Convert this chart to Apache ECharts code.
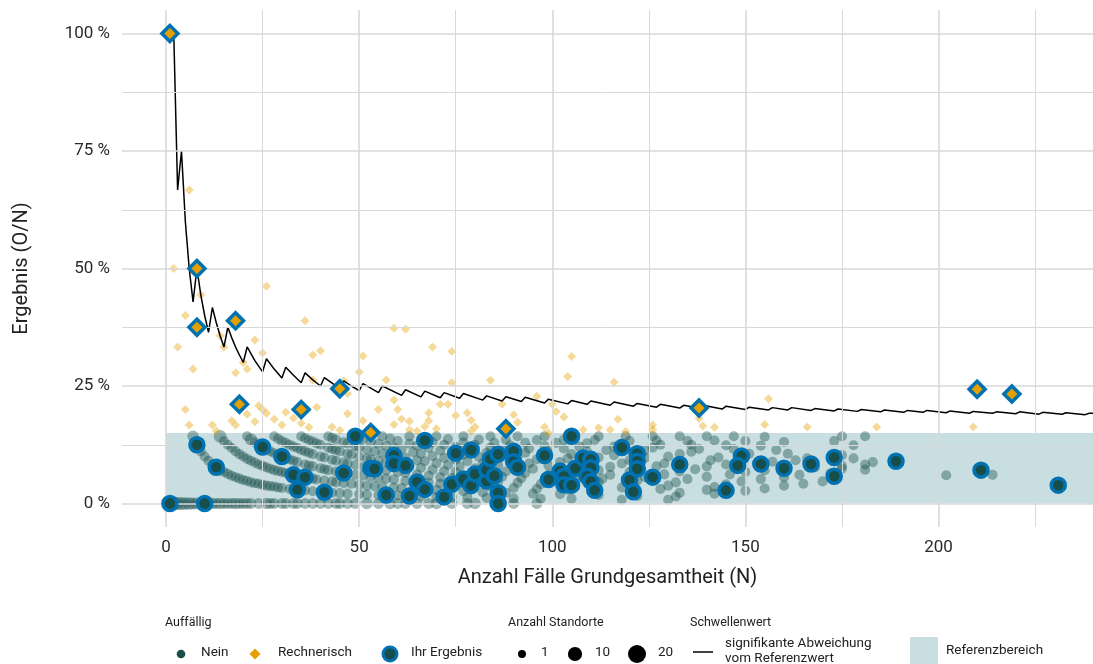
<!DOCTYPE html>
<html><head><meta charset="utf-8">
<script src="https://cdn.jsdelivr.net/npm/echarts@6/dist/echarts.min.js"></script>
<style>html,body{margin:0;padding:0;background:#fff}#c{width:1093px;height:664px}</style>
</head><body><div id="c"></div>
<script>
// ---- tick labels / ranges ----
const xTicks = [0, 50, 100, 150, 200];
const xMinor = [25, 75, 125, 175, 225];
const yTicks = [0, 25, 50, 75, 100];
const yMinor = [12.5, 37.5, 62.5, 87.5];
const refRange = [0, 15];          // Referenzbereich (%)
const sizeLegend = [1, 10, 20];     // Anzahl Standorte

// ---- threshold line (signifikante Abweichung vom Referenzwert) [N, %] ----
const threshold = [[1,100],[2,100],[3,66.7],[4,75],[5,60],[6,50],[7,42.9],[8,50],[9,44.4],[10,40],[11,36.4],[12,41.7],[13,38.5],[14,35.7],[15,33.3],[16,37.5],[17,35.3],[18,33.3],[19,31.6],[20,30],[21,33.3],[23,30.4],[25,28],[26,30.8],[28,28.6],[30,26.7],[31,29],[33,27.3],[35,25.7],[36,27.8],[38,26.3],[40,25],[41,26.8],[43,25.6],[45,24.4],[46,26.1],[48,25],[50,24],[51,25.5],[55,23.6],[56,25],[61,23],[62,24.2],[66,22.7],[67,23.9],[71,22.5],[72,23.6],[76,22.4],[77,23.4],[82,22],[83,22.9],[87,21.8],[88,22.7],[92,21.7],[93,22.6],[98,21.4],[99,22.2],[104,21.2],[105,21.9],[109,21.1],[110,21.8],[115,20.9],[116,21.6],[121,20.7],[122,21.3],[127,20.5],[128,21.1],[133,20.3],[134,20.9],[138,20.3],[139,20.9],[144,20.1],[145,20.7],[150,20],[151,20.5],[156,19.9],[157,20.4],[161,19.9],[162,20.4],[167,19.8],[168,20.2],[173,19.7],[174,20.1],[179,19.6],[180,20],[185,19.5],[186,19.9],[191,19.4],[192,19.8],[196,19.4],[197,19.8],[202,19.3],[203,19.7],[208,19.2],[209,19.6],[214,19.2],[215,19.5],[220,19.1],[221,19.5],[226,19],[227,19.4],[232,19],[233,19.3],[238,18.9],[239,19.2],[240,19.2]];

// ---- other sites, Auffällig: Nein  [N, %, Standorte] ----
const otherNein = [
[2,0,10],[3,0,8],[4,0,8],[5,0,7],[6,0,7],[7,0,6],[8,0,6],[9,0,5],[11,0,5],[12,0,5],[13,0,4],[14,0,5],[15,0,4],[16,0,4],[17,0,4],[18,0,5],[19,0,4],[20,0,4],[21,0,4],[22,0,4],[24,0,4],[26,0,5],[27,0,4],[28,0,4],[30,0,4],[31,0,4],[33,0,4],[34,0,4],[36,0,4],[38,0,4],[40,0,4],[42,0,4],[44,0,4],[45,0,4],[47,0,4],[49,0,4],[52,0,5],[55,0,4],[58,0,5],[60,0,4],[62,0,4],[65,0,4],[68,0,4],[70,0,5],[74,0,4],[78,0,4],[80,0,5],[85,0,4],[90,0,4],[96,0,4],
[7,14.3,5],[8,12.5],[9,11.1],[10,10],[11,9.1],[12,8.3],[13,7.7],[14,7.1],[15,6.7],[16,6.3],[17,5.9],[18,5.6],[19,5.3],[20,5],[21,4.8],[22,4.5],[23,4.3],[24,4.2],[25,4],[26,3.8],[27,3.7],[28,3.6],[29,3.4],[30,3.3],[32,3.1],[33,3],[35,2.9],[36,2.8],[38,2.6],[40,2.5],[42,2.4],[43,2.3],[45,2.2],[47,2.1],[50,2],[52,1.9],[55,1.8],[58,1.7],[60,1.7],[63,1.6],[66,1.5],[70,1.4],[74,1.4],[78,1.3],[83,1.2],[90,1.1],[97,1],[105,1],[118,0.8],[130,0.8],
[14,14.3,7],[15,13.3],[16,12.5],[17,11.8],[18,11.1],[19,10.5],[20,10],[21,9.5],[22,9.1],[23,8.7],[24,8.3],[25,8],[26,7.7],[27,7.4],[28,7.1],[29,6.9],[30,6.7],[31,6.5],[32,6.3],[34,5.9],[35,5.7],[37,5.4],[38,5.3],[39,5.1],[41,4.9],[43,4.7],[44,4.5],[46,4.3],[48,4.2],[50,4],[52,3.8],[54,3.7],[56,3.6],[59,3.4],[61,3.3],[64,3.1],[67,3],[70,2.9],[73,2.7],[77,2.6],[82,2.4],[88,2.3],[95,2.1],[102,2],[112,1.8],[122,1.6],[132,1.5],
[21,14.3],[22,13.6,6],[23,13],[24,12.5],[25,12],[26,11.5],[27,11.1],[28,10.7],[29,10.3],[30,10],[31,9.7],[32,9.4],[33,9.1],[34,8.8],[36,8.3],[37,8.1],[38,7.9],[40,7.5],[41,7.3],[42,7.1],[44,6.8],[45,6.7],[47,6.4],[49,6.1],[51,5.9],[53,5.7],[55,5.5],[57,5.3],[59,5.1],[62,4.8],[65,4.6],[68,4.4],[71,4.2],[75,4],[79,3.8],[84,3.6],[90,3.3],[96,3.1],[104,2.9],[111,2.7],[121,2.5],[133,2.3],[142,2.1],
[28,14.3],[29,13.8],[30,13.3],[31,12.9],[32,12.5],[33,12.1],[34,11.8],[35,11.4],[36,11.1],[37,10.8],[38,10.5],[40,10],[41,9.8],[43,9.3],[44,9.1],[46,8.7],[47,8.5],[49,8.2],[51,7.8],[53,7.5],[55,7.3],[57,7],[60,6.7],[62,6.5],[65,6.2],[68,5.9],[71,5.6],[74,5.4],[78,5.1],[82,4.9],[86,4.7],[91,4.4],[97,4.1],[103,3.9],[110,3.6],[118,3.4],[128,3.1],[140,2.9],[150,2.7],
[35,14.3],[36,13.9],[37,13.5],[38,13.2],[39,12.8],[40,12.5],[42,11.9],[43,11.6],[44,11.4],[45,11.1],[47,10.6],[48,10.4],[50,10],[52,9.6],[53,9.4],[55,9.1],[57,8.8],[59,8.5],[61,8.2],[63,7.9],[66,7.6],[69,7.2],[72,6.9],[75,6.7],[79,6.3],[83,6],[87,5.7],[92,5.4],[98,5.1],[105,4.8],[112,4.5],[121,4.1],[130,3.8],[142,3.5],[155,3.2],
[42,14.3],[43,14],[44,13.6],[46,13],[47,12.8],[49,12.2],[50,12],[52,11.5],[54,11.1],[56,10.7],[58,10.3],[60,10],[62,9.7],[65,9.2],[67,9],[70,8.6],[73,8.2],[76,7.9],[80,7.5],[84,7.1],[88,6.8],[93,6.5],[99,6.1],[106,5.7],[113,5.3],[122,4.9],[132,4.5],[145,4.1],[160,3.8],
[49,14.3],[51,13.7],[53,13.2],[55,12.7],[57,12.3],[59,11.9],[61,11.5],[64,10.9],[66,10.6],[69,10.1],[72,9.7],[75,9.3],[78,9],[82,8.5],[86,8.1],[90,7.8],[95,7.4],[101,6.9],[108,6.5],[115,6.1],[124,5.6],[135,5.2],[149,4.7],[165,4.2],
[56,14.3],[58,13.8],[60,13.3],[63,12.7],[65,12.3],[68,11.8],[71,11.3],[74,10.8],[77,10.4],[81,9.9],[85,9.4],[89,9],[94,8.5],[99,8.1],[105,7.6],[112,7.1],[120,6.7],[129,6.2],[140,5.7],[154,5.2],[170,4.7],
[63,14.3],[66,13.6],[69,13],[72,12.5],[75,12],[79,11.4],[83,10.8],[87,10.3],[91,9.9],[96,9.4],[102,8.8],[108,8.3],[115,7.8],[123,7.3],[133,6.8],[146,6.2],[160,5.6],
[70,14.3],[73,13.7],[77,13],[80,12.5],[84,11.9],[88,11.4],[93,10.8],[98,10.2],[104,9.6],[111,9],[118,8.5],[127,7.9],[137,7.3],[150,6.7],[164,6.1],
[77,14.3],[81,13.6],[85,12.9],[89,12.4],[94,11.7],[99,11.1],[105,10.5],[112,9.8],[120,9.2],[129,8.5],[140,7.9],[155,7.1],[172,6.4],
[84,14.3],[88,13.6],[93,12.9],[98,12.2],[103,11.7],[109,11],[116,10.3],[124,9.7],[133,9],[145,8.3],[160,7.5],
[91,14.3],[96,13.5],[101,12.9],[107,12.1],[114,11.4],[121,10.7],[130,10],[141,9.2],[153,8.5],[168,7.7],
[98,14.3],[103,13.6],[109,12.8],[116,12.1],[124,11.3],[133,10.5],[143,9.8],[157,8.9],[175,8],
[105,14.3],[111,13.5],[118,12.7],[126,11.9],[136,11],[148,10.1],[163,9.2],[181,8.3],
[112,14.3],[120,13.3],[128,12.5],[138,11.6],[151,10.6],[166,9.6],
[119,14.3],[127,13.4],[136,12.5],[147,11.6],[161,10.6],[178,9.6],
[126,14.3],[135,13.3],[145,12.4],[158,11.4],[175,10.3],
[133,14.3],[142,13.4],[154,12.3],[140,14.3],[150,13.3],[147,14.3],[160,13.1],[155,14.2],[173,13.3],[175,14.3],[181,14.3],[178,12.4],[183,8.8],[202,6],[214,6.1],[181,7.2],[175,7.4]
];

// ---- other sites, Auffällig: Rechnerisch [N, %] ----
const otherRech = [[2,50],[3,33.3],[5,40],[6,66.7],[9,44.4],[7,28.6],[5,20],[6,16.7],[12,16.7],[13,15.4],[14,35.7],[15,33.3],[17,17.6],[18,16.7],[18,27.8],[20,30],[21,28.6],[21,19],[23,34.8],[23,17.4],[24,20.8],[25,32],[25,20],[26,46.2],[26,19.2],[28,17.9],[30,16.7],[31,19.4],[33,18.2],[35,17.1],[36,38.9],[37,16.2],[38,31.6],[38,26.3],[39,20.5],[40,32.5],[43,16.3],[45,15.6],[46,26.1],[47,23.4],[47,19.1],[50,28],[51,31.4],[51,17.6],[55,20],[57,26.3],[59,37.3],[59,22],[59,16.8],[60,20],[61,18],[62,37.1],[63,17.5],[63,15.7],[65,15.4],[67,16.4],[68,17.6],[68,19.3],[69,33.3],[70,15.9],[71,21.1],[73,21.1],[74,32.4],[74,25.7],[75,18.7],[78,19.3],[79,17.7],[79,15.4],[80,16.3],[84,26.2],[87,21.1],[89,16.1],[90,18.9],[91,17.3],[96,22.8],[98,16.3],[99,15],[100,21.1],[101,19.6],[103,18.4],[104,27],[105,31.3],[108,15.7],[112,16.1],[115,15.7],[116,25.8],[117,17.9],[119,15.3],[126,16.7],[126,15.7],[138,18.1],[139,16.5],[142,16.2],[155,16.8],[156,22.3],[166,16.3],[184,16.3],[209,16.3]];

// ---- Ihr Ergebnis ----
const yourNein = [[1,0],[10,0],[8,12.5],[13,7.7],[25,12],[30,10],[33,6.1],[36,5.6],[34,2.9],[41,2.4],[46,6.5],[49,14.3],[53,7.5],[54,7.4],[57,1.8],[59,10.2],[59,8.5],[62,8.1],[63,1.6],[65,4.6],[67,13.4],[67,3],[72,1.4],[74,4.1],[75,10.7],[77,5.2],[79,11.4],[79,3.8],[80,6.3],[83,4.8],[83,7.2],[84,9.5],[85,5.9],[86,10.5],[86,2.3],[86,0],[90,11.1],[90,8.9],[91,7.7],[98,10.2],[99,5.1],[102,6.9],[103,5.8],[103,4],[105,3.9],[106,7.5],[105,14.3],[108,9.7],[110,9.4],[110,7.6],[109,5.8],[110,4.7],[111,2.8],[118,11.9],[122,10.6],[122,9],[122,7.4],[120,5],[121,2.5],[126,5.6],[133,8.3],[145,2.8],[149,10.1],[148,8.1],[154,8.4],[160,7.5],[167,8.4],[173,9.8],[173,5.8],[189,9],[211,7.1],[231,3.9]];
const yourRech = [[1,100],[8,50],[8,37.5],[18,38.9],[19,21.1],[35,20],[45,24.4],[53,15.1],[88,15.9],[138,20.3],[210,24.3],[219,23.3]];

// ---- styling ----
const FONT = 'Roboto';
const GREEN = '#174e4a', ORANGE = '#e69f00', BLUE = '#0072b2';
const BAND = 'rgba(96,158,164,0.34)';
const GRID = '#d9d9d9';
const X_MIN = -11.4, X_MAX = 240, Y_MIN = -5, Y_MAX = 105;
const dia = s => 5.1 + 2.88 * Math.sqrt(s);

const gridLines = [];
xTicks.forEach(v => gridLines.push({xAxis: v, lineStyle: {width: 1.6}}));
xMinor.forEach(v => gridLines.push({xAxis: v, lineStyle: {width: 1}}));
yTicks.forEach(v => gridLines.push({yAxis: v, lineStyle: {width: 1.6}}));
yMinor.forEach(v => gridLines.push({yAxis: v, lineStyle: {width: 1}}));

const chart = echarts.init(document.getElementById('c'), null, {renderer: 'canvas'});

// legend graphics
const LY = 654, TY = 624;
const txt = (x, y, s, size, extra) => Object.assign({type: 'text', left: x, top: y - (size || 13.5) * 0.62, style: {text: s, fill: '#222', font: (size || 13.5) + 'px ' + FONT}}, extra || {});
const legendEls = [
  txt(165, TY, 'Auffällig', 12.5),
  {type: 'circle', shape: {cx: 181, cy: LY, r: 4.3}, style: {fill: GREEN}},
  txt(201, LY, 'Nein'),
  {type: 'polygon', shape: {points: [[255, LY - 5.5], [260.5, LY], [255, LY + 5.5], [249.5, LY]]}, style: {fill: ORANGE}},
  txt(278, LY, 'Rechnerisch'),
  {type: 'circle', shape: {cx: 390, cy: LY, r: 7}, style: {fill: GREEN, stroke: BLUE, lineWidth: 3}},
  txt(411, LY, 'Ihr Ergebnis'),
  txt(508, TY, 'Anzahl Standorte', 12.5),
  {type: 'circle', shape: {cx: 522, cy: LY, r: dia(sizeLegend[0]) / 2}, style: {fill: '#000'}},
  txt(541, LY, String(sizeLegend[0])),
  {type: 'circle', shape: {cx: 575, cy: LY, r: dia(sizeLegend[1]) / 2}, style: {fill: '#000'}},
  txt(595, LY, String(sizeLegend[1])),
  {type: 'circle', shape: {cx: 637, cy: LY, r: dia(sizeLegend[2]) / 2}, style: {fill: '#000'}},
  txt(658, LY, String(sizeLegend[2])),
  txt(690, TY, 'Schwellenwert', 12.5),
  {type: 'line', shape: {x1: 693, y1: 652, x2: 713, y2: 652}, style: {stroke: '#000', lineWidth: 1.5}},
  txt(725, 644.5, 'signifikante Abweichung'),
  txt(725, 659.5, 'vom Referenzwert'),
  {type: 'rect', shape: {x: 910, y: 637, width: 28, height: 28}, style: {fill: BAND}},
  txt(946, 652, 'Referenzbereich')
];

chart.setOption({
  animation: false,
  backgroundColor: '#fff',
  textStyle: {fontFamily: FONT},
  grid: {left: 122, right: 0, top: 10, bottom: 137, containLabel: false},
  xAxis: {
    type: 'value', min: X_MIN, max: X_MAX,
    name: 'Anzahl Fälle Grundgesamtheit (N)', nameLocation: 'middle', nameGap: 41,
    nameTextStyle: {fontSize: 20, color: '#222', fontFamily: FONT},
    axisLine: {show: false}, axisTick: {show: false}, splitLine: {show: false},
    axisLabel: {customValues: xTicks, fontSize: 17, color: '#2a2a2a', margin: 12, fontFamily: FONT}
  },
  yAxis: {
    type: 'value', min: Y_MIN, max: Y_MAX,
    name: 'Ergebnis (O/N)', nameLocation: 'middle', nameGap: 90,
    nameTextStyle: {fontSize: 20, color: '#222', fontFamily: FONT},
    axisLine: {show: false}, axisTick: {show: false}, splitLine: {show: false},
    axisLabel: {customValues: yTicks, fontSize: 17, color: '#2a2a2a', margin: 12, fontFamily: FONT,
      formatter: v => v + ' %'}
  },
  graphic: legendEls,
  series: [
    {type: 'line', data: [], z: 1, silent: true,
     markLine: {silent: true, symbol: ['none', 'none'], label: {show: false}, animation: false,
       lineStyle: {color: GRID, type: 'solid'}, emphasis: {disabled: true}, data: gridLines}},
    {type: 'scatter', data: [], z: 2, silent: true,
     markArea: {silent: true, itemStyle: {color: BAND}, emphasis: {disabled: true},
       data: [[{xAxis: 0, yAxis: refRange[0]}, {xAxis: X_MAX, yAxis: refRange[1]}]]}},
    {type: 'scatter', name: 'Nein', z: 3, data: otherNein, symbol: 'circle',
     symbolSize: v => dia(v[2] || 3),
     itemStyle: {color: GREEN, opacity: 0.4}, silent: true},
    {type: 'scatter', name: 'Rechnerisch', z: 3, data: otherRech, symbol: 'diamond', symbolSize: 9,
     itemStyle: {color: ORANGE, opacity: 0.4}, silent: true},
    {type: 'line', name: 'Schwellenwert', z: 4, data: threshold, showSymbol: false, symbol: 'none',
     lineStyle: {color: '#000', width: 1.5}, silent: true},
    {type: 'scatter', name: 'Ihr Ergebnis', z: 5, data: yourNein, symbol: 'circle', symbolSize: 14,
     itemStyle: {color: GREEN, borderColor: BLUE, borderWidth: 3.5, opacity: 1}, silent: true},
    {type: 'scatter', name: 'Ihr Ergebnis (Rechnerisch)', z: 5, data: yourRech, symbol: 'diamond', symbolSize: 16,
     itemStyle: {color: ORANGE, borderColor: BLUE, borderWidth: 3.5, opacity: 1}, silent: true}
  ]
});
</script></body></html>
